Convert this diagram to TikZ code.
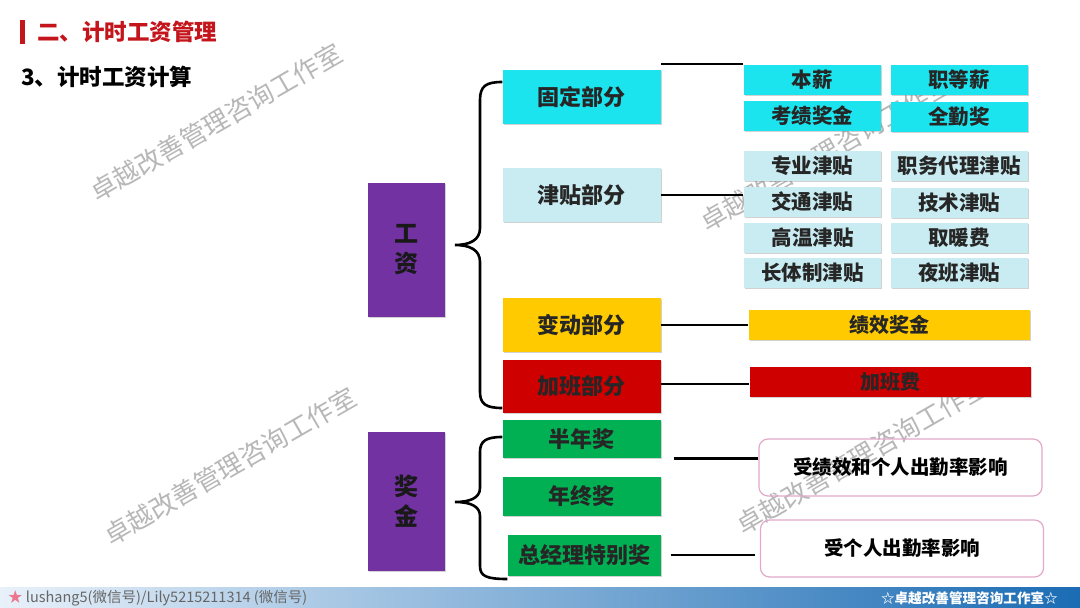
\documentclass[tikz,border=0pt]{standalone}
\usepackage{fontspec}
\setmainfont{Noto Sans CJK SC}
\usetikzlibrary{shadows}
\definecolor{cyanbox}{HTML}{1CE4EE}
\definecolor{lightbox}{HTML}{C9ECF2}
\definecolor{yellowbox}{HTML}{FFCA00}
\definecolor{redbox}{HTML}{CE0000}
\definecolor{greenbox}{HTML}{00B052}
\definecolor{purplebox}{HTML}{7232A2}
\definecolor{pinkline}{HTML}{E3A9C9}
\definecolor{titlered}{HTML}{C4151C}
\definecolor{footL}{HTML}{E8F1FA}
\definecolor{footM}{HTML}{A3CAEA}
\definecolor{footR}{HTML}{1B6CB4}
\begin{document}
\begin{tikzpicture}[x=1pt,y=-1pt,
  shadowed/.style={drop shadow={shadow xshift=1.3pt,shadow yshift=-1.3pt,opacity=0.35,fill=gray}},
  box/.style={shadowed,inner sep=0pt,text=black!85,font=\fontsize{22}{22}\selectfont\bfseries},
  leftbox/.style={box,minimum width=158pt},
  smallbox/.style={box,minimum width=137pt,minimum height=30pt,font=\fontsize{20.5}{20.5}\selectfont\bfseries},
  widebox/.style={box,minimum width=281pt,minimum height=30pt,font=\fontsize{20}{20}\selectfont\bfseries},
  purple/.style={shadowed,fill=purplebox,minimum width=77pt,inner sep=0pt,align=center,
    text=black!90,font=\fontsize{24}{30}\selectfont\bfseries},
  pinkbox/.style={draw=pinkline,line width=1.2pt,rounded corners=9pt,minimum width=283pt,
    minimum height=57pt,inner sep=0pt,font=\fontsize{19.5}{19.5}\selectfont\bfseries},
  link/.style={line width=2.8pt,black},
  bracel/.style={line width=2.6pt,black},
  wm/.style={rotate=30,text=gray!75,opacity=0.75,font=\fontsize{26}{26}\selectfont}
]
\useasboundingbox (0,0) rectangle (1080,608);
\fill[white] (0,0) rectangle (1080,608);

% watermarks
\node[wm] (w1) at (216,122) {卓越改善管理咨询工作室};
\node[wm] (w2) at (826,152) {卓越改善管理咨询工作室};
\node[wm] (w3) at (230,466) {卓越改善管理咨询工作室};
\node[wm] (w4) at (862,455) {卓越改善管理咨询工作室};

% header
\fill[titlered] (20,20) rectangle (24.5,44);
\node[anchor=west,inner sep=0pt,text=titlered,font=\fontsize{22.5}{22.5}\selectfont\bfseries] (title) at (37,32) {二、计时工资管理};
\node[anchor=west,inner sep=0pt,text=black,font=\fontsize{22.5}{22.5}\selectfont\bfseries] (sub) at (21,77) {3、计时工资计算};

% purple boxes
\node[purple,minimum height=134pt] (gz) at (406.5,250) {工\\资};
\node[purple,minimum height=139pt] (jj) at (406.5,501.5) {奖\\金};

% left column
\node[leftbox,fill=cyanbox,minimum height=54pt] (gd) at (581.5,97) {固定部分};
\node[leftbox,fill=lightbox,minimum height=54pt] (jt) at (581.5,195) {津贴部分};
\node[leftbox,fill=yellowbox,minimum height=54pt] (bd) at (581.5,325) {变动部分};
\node[leftbox,fill=redbox,minimum height=53pt] (jb) at (581.5,386.5) {加班部分};
\node[leftbox,fill=greenbox,minimum height=38pt] (bn) at (581.5,439) {半年奖};
\node[leftbox,fill=greenbox,minimum height=39pt] (nz) at (581.5,496.5) {年终奖};
\node[box,fill=greenbox,minimum width=153pt,minimum height=41pt] (zt) at (584,555) {总经理特别奖};

% right grid
\node[smallbox,fill=cyanbox] (bx) at (812,80) {本薪};
\node[smallbox,fill=cyanbox] (zd) at (959,80) {职等薪};
\node[smallbox,fill=cyanbox] (kj) at (812,116) {考绩奖金};
\node[smallbox,fill=cyanbox] (qq) at (959,117) {全勤奖};
\node[smallbox,fill=lightbox] (zy) at (812,166) {专业津贴};
\node[smallbox,fill=lightbox] (zw) at (959,166) {职务代理津贴};
\node[smallbox,fill=lightbox] (jtt) at (812,202) {交通津贴};
\node[smallbox,fill=lightbox] (js) at (959,202.5) {技术津贴};
\node[smallbox,fill=lightbox] (gw) at (812.5,237.5) {高温津贴};
\node[smallbox,fill=lightbox] (qn) at (959,237.5) {取暖费};
\node[smallbox,fill=lightbox] (ct) at (812.5,273) {长体制津贴};
\node[smallbox,fill=lightbox] (yb) at (959,273) {夜班津贴};
\node[widebox,fill=yellowbox] (jx) at (889,324.5) {绩效奖金};
\node[widebox,fill=redbox] (jbf) at (890,382) {加班费};
\node[pinkbox] (p1) at (900.5,467.5) {受绩效和个人出勤率影响};
\node[pinkbox] (p2) at (902,548.5) {受个人出勤率影响};

% connectors
\draw[link] (bx.north west |- 0,64) -- (gd.east |- 0,64);
\draw[link] (jt.east) -- (jt.east -| jtt.west);
\draw[link] (bd.east) -- (bd.east -| jx.west);
\draw[link] (jb.east |- 0,384) -- (jbf.west |- 0,384);
\draw[link] ([xshift=13pt]bn.south east) -- (p1.west |- bn.south east);
\draw[link] ([xshift=10pt]zt.east) -- ([xshift=-5pt]zt.east -| p2.west);

% braces
\draw[bracel] (gd.west |- 0,82) .. controls (486,82) and (480,86) .. (480,100)
  -- (480,228) .. controls (480,240) and (470,245) .. (455,245)
  .. controls (470,245) and (480,250) .. (480,262)
  -- (480,392) .. controls (480,404) and (486,408) .. (jb.west |- 0,408);
\draw[bracel] (bn.west |- 0,437) .. controls (486,437) and (480,441) .. (480,452)
  -- (480,488) .. controls (480,498) and (470,502) .. (455,502)
  .. controls (470,502) and (480,506) .. (480,516)
  -- (480,566) .. controls (480,576) and (486,579) .. (zt.west |- 0,579);

% footer
\shade[left color=footL,middle color=footM,right color=footR] (0,587) rectangle (1080,608);
\node[anchor=west,inner sep=0pt,text=gray!80!black,font=\fontsize{14.5}{14.5}\selectfont] (fl) at (8,598)
  {\textcolor{pinkline!70!red}{★} lushang5(微信号)/Lily5215211314 (微信号)};
\node[anchor=east,inner sep=0pt,text=white,font=\fontsize{13.6}{13.6}\selectfont\bfseries] (fr) at (1058,598)
  {☆卓越改善管理咨询工作室☆};
\end{tikzpicture}
\end{document}
